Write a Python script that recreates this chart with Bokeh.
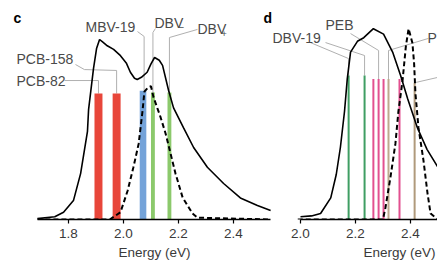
from bokeh.plotting import figure
from bokeh.layouts import row
from bokeh.models import Label, FixedTicker, Range1d, NumeralTickFormatter, Title
from bokeh.embed import file_html
from bokeh.resources import INLINE

# ---------------- panel c data ----------------
c_solid_e = [1.687, 1.75, 1.782, 1.818, 1.844, 1.869, 1.873, 1.891, 1.902, 1.913, 1.925, 1.941,
             1.964, 1.989, 2.01, 2.025, 2.04, 2.05, 2.065, 2.086, 2.1, 2.113, 2.13, 2.142, 2.164,
             2.182, 2.218, 2.255, 2.305, 2.364, 2.425, 2.487, 2.535]
c_solid_v = [0.005, 0.015, 0.04, 0.105, 0.255, 0.49, 0.61, 0.84, 0.95, 1.0, 0.985, 0.965,
             0.945, 0.91, 0.87, 0.818, 0.785, 0.778, 0.79, 0.818, 0.865, 0.9, 0.885, 0.856, 0.717,
             0.62, 0.51, 0.40, 0.29, 0.20, 0.12, 0.078, 0.05]
c_dash_e = [1.687, 1.95, 1.989, 2.015, 2.036, 2.055, 2.069, 2.076, 2.09, 2.1, 2.109, 2.135, 2.153,
            2.171, 2.189, 2.215, 2.251, 2.269, 2.535]
c_dash_v = [0.0, 0.0, 0.04, 0.16, 0.29, 0.42, 0.6, 0.71, 0.735, 0.74, 0.68, 0.567, 0.478,
            0.367, 0.256, 0.122, 0.033, 0.01, 0.0]
c_bar_e = [1.909, 1.975, 2.071, 2.107, 2.167]
c_bar_w = [0.029, 0.029, 0.024, 0.014, 0.014]
c_bar_top = [0.70, 0.70, 0.715, 0.705, 0.705]
c_bar_color = ["#e8463a", "#e8463a", "#74a3d9", "#8cc96c", "#8cc96c"]
c_ticks = [1.8, 2.0, 2.2, 2.4]

# ---------------- panel d data ----------------
d_solid_e = [2.0, 2.04, 2.073, 2.11, 2.13, 2.145, 2.16, 2.17, 2.182, 2.207, 2.23, 2.265, 2.302,
             2.335, 2.364, 2.39, 2.425, 2.46, 2.5]
d_solid_v = [0.015, 0.02, 0.033, 0.12, 0.25, 0.40, 0.60, 0.78, 0.93, 0.99, 1.01, 1.06, 1.03,
             0.93, 0.80, 0.67, 0.51, 0.39, 0.29]
d_dash_e = [1.99, 2.30, 2.309, 2.327, 2.345, 2.356, 2.371, 2.383, 2.393, 2.407, 2.413, 2.418,
            2.429, 2.447, 2.462, 2.473, 2.5]
d_dash_v = [0.0, 0.0, 0.067, 0.233, 0.42, 0.60, 0.77, 0.96, 1.06, 0.98, 0.87, 0.70,
            0.51, 0.33, 0.144, 0.033, 0.0]
d_line_e = [2.175, 2.233, 2.265, 2.284, 2.302, 2.32, 2.36, 2.415]
d_line_top = [0.80, 0.80, 0.78, 0.78, 0.78, 0.78, 0.78, 0.76]
d_line_color = ["#3f9e63", "#3f9e63", "#e2508f", "#e2508f", "#e2508f", "#bda98e", "#e2508f", "#b09a7c"]
d_ticks = [2.0, 2.2, 2.4, 2.6]

FONT = "Liberation Sans"
LBL = "#4a4a4a"
LEAD = "#b0b0b0"
YMAX = 1.2167
H = 273


def base_fig(width, x0, x1, ticks, bounds):
    p = figure(width=width, height=H, x_range=Range1d(x0, x1), y_range=Range1d(0, YMAX),
               output_backend="svg", toolbar_location=None, y_axis_location=None,
               min_border_left=0, min_border_right=0, min_border_top=0, min_border_bottom=54)
    p.outline_line_color = None
    p.xgrid.visible = False
    p.ygrid.visible = False
    ax = p.xaxis[0]
    ax.ticker = FixedTicker(ticks=ticks)
    ax.formatter = NumeralTickFormatter(format="0.0")
    ax.bounds = bounds
    ax.axis_line_color = "black"
    ax.axis_line_width = 1.5
    ax.major_tick_line_color = "black"
    ax.major_tick_line_width = 1.2
    ax.major_tick_out = 4
    ax.major_tick_in = 0
    ax.minor_tick_line_color = None
    ax.major_label_text_font = FONT
    ax.major_label_text_font_size = "13.5px"
    ax.major_label_text_color = "#3a3a3a"
    ax.major_label_standoff = 5
    return p


def xtitle(p, align, offset):
    p.add_layout(Title(text="Energy (eV)", align=align, offset=offset, standoff=4,
                       text_font=FONT, text_font_size="13.5px", text_font_style="normal",
                       text_color="#3a3a3a"), "below")


def lab(p, x, y, text, size="14px", style="normal", color=LBL, align="left"):
    p.add_layout(Label(x=x, y=y, text=text, text_font=FONT, text_font_size=size,
                       text_font_style=style, text_color=color, text_align=align,
                       text_baseline="middle"))


# ---------------- figure c ----------------
pc = base_fig(272, 1.55273, 2.54182, c_ticks, (1.687, 2.535))
xtitle(pc, "left", 118)

# leader lines (label -> bar top)
c_leaders = [
    ([1.7855, c_bar_e[0], c_bar_e[0]], [0.772, 0.772, c_bar_top[0]]),
    ([1.8255, 1.858, c_bar_e[1], c_bar_e[1]], [0.861, 0.833, 0.828, c_bar_top[1]]),
    ([2.051, c_bar_e[2] + 0.004, c_bar_e[2] + 0.004], [1.044, 1.017, c_bar_top[2]]),
    ([2.116, c_bar_e[3], c_bar_e[3]], [1.061, 1.039, c_bar_top[3]]),
    ([2.269, c_bar_e[4], c_bar_e[4]], [1.056, 1.011, c_bar_top[4]]),
]
for xs, ys in c_leaders:
    pc.line(xs, ys, line_color=LEAD, line_width=1)

pc.vbar(x=c_bar_e, width=c_bar_w, top=c_bar_top, bottom=0, fill_color=c_bar_color,
        line_color=None)
pc.line(c_dash_e, c_dash_v, line_color="black", line_width=2, line_dash="5 3")
pc.line(c_solid_e, c_solid_v, line_color="black", line_width=1.6)

lab(pc, 1.6109, 0.772, "PCB-82")
lab(pc, 1.6109, 0.894, "PCB-158")
lab(pc, 1.8618, 1.067, "MBV-19")
lab(pc, 2.1127, 1.094, "DBV")
lab(pc, 2.2, 1.069, "\u2212", size="10px")
lab(pc, 2.269, 1.061, "DBV")
lab(pc, 2.3564, 1.033, "+", size="9px")
lab(pc, 1.6, 1.122, "c", size="14px", style="bold", color="black")
lab(pc, 2.509, 1.122, "d", size="14px", style="bold", color="black")

# ---------------- figure d ----------------
pd_ = base_fig(165, 1.89818, 2.49818, d_ticks, (2.0, 2.6))
xtitle(pd_, "right", 2)

d_leaders = [
    ([2.036, d_line_e[0], d_line_e[0]], [0.983, 0.894, d_line_top[0]]),
    ([2.091, d_line_e[1], d_line_e[1]], [0.983, 0.911, d_line_top[1]]),
    ([2.182, d_line_e[3], d_line_e[3]], [1.033, 0.939, d_line_top[3]]),
    ([2.465, d_line_e[5], d_line_e[5]], [1.006, 0.939, d_line_top[5]]),
    ([2.498, d_line_e[7]], [0.789, d_line_top[7]]),
]
for xs, ys in d_leaders:
    pd_.line(xs, ys, line_color=LEAD, line_width=1)

pd_.segment(x0=d_line_e, y0=[0] * len(d_line_e), x1=d_line_e, y1=d_line_top,
            line_color=d_line_color, line_width=2)
pd_.line(d_dash_e, d_dash_v, line_color="black", line_width=2, line_dash="5 3")
pd_.line(d_solid_e, d_solid_v, line_color="black", line_width=1.6)

lab(pd_, 1.898, 1.011, "DBV-19")
lab(pd_, 2.0909, 1.078, "PEB")
lab(pd_, 2.4617, 1.006, "P")

layout = row(pc, pd_, spacing=0)
open("out.html", "w").write(file_html(layout, INLINE))
